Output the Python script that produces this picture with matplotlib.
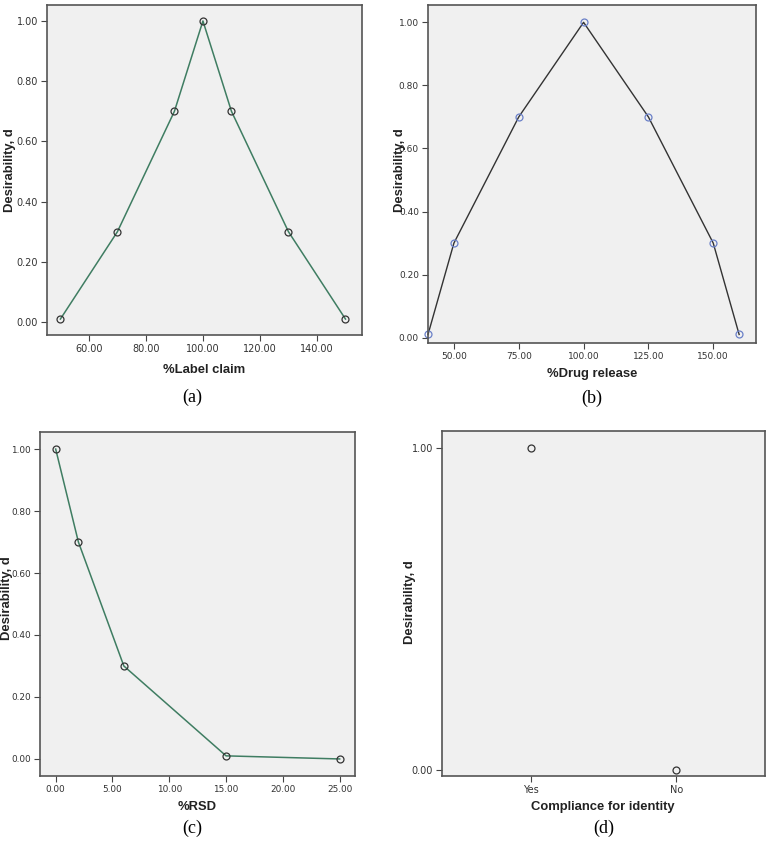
import matplotlib.pyplot as plt
from matplotlib.ticker import FormatStrFormatter

# panel (a)
label_claim = [50, 70, 90, 100, 110, 130, 150]
d_label_claim = [0.01, 0.3, 0.7, 1.0, 0.7, 0.3, 0.01]

# panel (b)
drug_release = [40, 50, 75, 100, 125, 150, 160]
d_drug_release = [0.01, 0.3, 0.7, 1.0, 0.7, 0.3, 0.01]

# panel (c)
rsd = [0, 2, 6, 15, 25]
d_rsd = [1.0, 0.7, 0.3, 0.01, 0.0]

# panel (d)
identity = ['Yes', 'No']
d_identity = [1.0, 0.0]

W, H = 770, 842
BG = '#f0f0f0'
GREEN = '#3f7d62'


def px_axes(fig, left, top, right, bottom):
    return fig.add_axes([left / W, 1 - bottom / H, (right - left) / W, (bottom - top) / H])


def style(ax, fs=7):
    ax.set_facecolor(BG)
    for s in ax.spines.values():
        s.set_color('#555555')
        s.set_linewidth(1.2)
    ax.tick_params(direction='out', length=4, width=0.8, color='#444444', pad=2.5,
                   labelsize=fs, labelcolor='#333333', top=False, right=False)


def txt(fig, x, y, s, **kw):
    fig.text(x / W, 1 - y / H, s, ha='center', va='center', **kw)


fig = plt.figure(figsize=(W / 100, H / 100), dpi=100)
fig.patch.set_facecolor('white')
lab = dict(fontsize=9.4, fontweight='bold', color='#222222', family='Liberation Sans')
sub = dict(fontsize=13, family='Liberation Serif', color='black')

# (a)
ax = px_axes(fig, 47, 5, 362, 335)
style(ax)
ax.plot(label_claim, d_label_claim, color=GREEN, lw=1.1, marker='o', ms=5,
        mfc='none', mec='#333333', mew=0.9)
ax.set_xlim(45.3, 155.8)
ax.set_ylim(-0.043, 1.053)
ax.set_xticks([60, 80, 100, 120, 140])
ax.set_yticks([0, 0.2, 0.4, 0.6, 0.8, 1.0])
ax.xaxis.set_major_formatter(FormatStrFormatter('%.2f'))
ax.yaxis.set_major_formatter(FormatStrFormatter('%.2f'))
txt(fig, 204, 370, '%Label claim', **lab)
txt(fig, 10, 170, 'Desirability, d', rotation=90, **lab)
txt(fig, 192, 397, '(a)', **sub)

# (b)
ax = px_axes(fig, 428, 5, 756, 343)
style(ax, fs=6.5)
ax.plot(drug_release, d_drug_release, color='#333333', lw=1.0, marker='o', ms=5,
        mfc='none', mec='#6a80c8', mew=0.9, clip_on=False)
ax.set_xlim(40, 166.5)
ax.set_ylim(-0.017, 1.055)
ax.set_xticks([50, 75, 100, 125, 150])
ax.set_yticks([0, 0.2, 0.4, 0.6, 0.8, 1.0])
ax.xaxis.set_major_formatter(FormatStrFormatter('%.2f'))
ax.yaxis.set_major_formatter(FormatStrFormatter('%.2f'))
txt(fig, 592, 374, '%Drug release', **lab)
txt(fig, 400, 170, 'Desirability, d', rotation=90, **lab)
txt(fig, 592, 398, '(b)', **sub)

# (c)
ax = px_axes(fig, 40, 432, 355, 776)
style(ax, fs=6.4)
ax.plot(rsd, d_rsd, color=GREEN, lw=1.1, marker='o', ms=5,
        mfc='none', mec='#333333', mew=0.9)
ax.set_xlim(-1.38, 26.35)
ax.set_ylim(-0.055, 1.055)
ax.set_xticks([0, 5, 10, 15, 20, 25])
ax.set_yticks([0, 0.2, 0.4, 0.6, 0.8, 1.0])
ax.xaxis.set_major_formatter(FormatStrFormatter('%.2f'))
ax.yaxis.set_major_formatter(FormatStrFormatter('%.2f'))
txt(fig, 197, 807, '%RSD', **lab)
txt(fig, 7, 598, 'Desirability, d', rotation=90, **lab)
txt(fig, 192, 828, '(c)', **sub)

# (d)
ax = px_axes(fig, 442, 431, 765, 776)
style(ax)
pos = list(range(len(identity)))
ax.plot(pos, d_identity, ls='none', marker='o', ms=5,
        mfc='none', mec='#333333', mew=0.9)
ax.set_xlim(-0.61, 1.61)
ax.set_ylim(-0.019, 1.054)
ax.set_xticks(pos)
ax.set_xticklabels(identity)
ax.set_yticks([0, 1.0])
ax.yaxis.set_major_formatter(FormatStrFormatter('%.2f'))
txt(fig, 603, 807, 'Compliance for identity', **lab)
txt(fig, 410, 602, 'Desirability, d', rotation=90, **lab)
txt(fig, 604, 828, '(d)', **sub)

fig.savefig('out.png', dpi=100, facecolor='white')
